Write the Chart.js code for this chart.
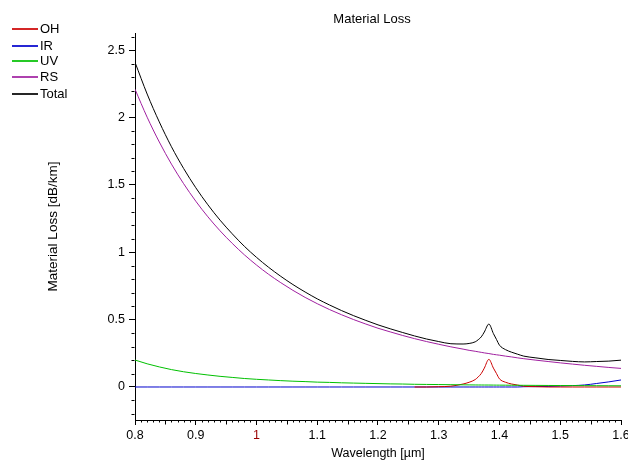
<!DOCTYPE html>
<html><head><meta charset="utf-8">
<script src="https://cdn.jsdelivr.net/npm/chart.js@4"></script>
<style>
html,body{margin:0;padding:0;background:#fff;}
#wrap{position:relative;width:628px;height:462px;overflow:hidden;}
canvas{position:absolute;left:0;top:0;}
.txt{position:absolute;font-family:"Liberation Sans",Arial,sans-serif;color:#000;white-space:nowrap;}
#title{left:272px;width:200px;top:11px;line-height:16px;font-size:13px;text-align:center;}
.legline{position:absolute;left:12px;width:26px;height:2px;opacity:0.85;}
.legtxt{left:40px;font-size:13px;line-height:16px;}
</style></head>
<body><div id="wrap"><canvas id="c" width="628" height="462"></canvas>
<div id="title" class="txt">Material Loss</div>
<div id="legend"></div></div>
<script>
const wavelength = [0.80,0.82,0.84,0.86,0.88,0.90,0.92,0.94,0.96,0.98,1.00,1.02,1.04,1.06,1.08,1.10,1.12,1.14,1.16,1.18,1.20,1.22,1.24,1.26,1.28,1.30,1.32,
  1.34,1.35,1.36,1.365,1.37,1.375,1.3825,1.39,1.395,1.40,1.41,1.42,1.43,
  1.44,1.46,1.48,1.50,1.52,1.54,1.56,1.58,1.60];
const ohLoss = [null,null,null,null,null,null,null,null,null,null,null,null,null,null,null,null,null,null,null,null,null,null,null,0,0,0.002,0.006,
  0.022,0.035,0.055,0.075,0.100,0.140,0.205,0.140,0.100,0.060,0.035,0.022,0.014,
  0.006,0.002,0,0,0,0,0,0,0];
const irLoss = [0,0,0,0,0,0,0,0,0,0,0,0,0,0,0,0,0,0,0,0,0,0,0,0,0,0,0,
  0,0,0,0,0,0,0,0,0,0,0,0,0,
  0.002,0.003,0.004,0.007,0.010,0.015,0.026,0.038,0.052];
const uvLoss = [0.200,0.172,0.149,0.129,0.113,0.100,0.089,0.079,0.071,0.063,0.057,0.052,0.047,0.043,0.040,0.036,0.034,0.031,0.029,0.027,0.025,0.023,0.022,0.020,0.019,0.018,0.017,
  0.016,0.0155,0.015,0.0148,0.0147,0.0146,0.0144,0.0141,0.0139,0.0137,0.0134,0.013,0.0127,
  0.0124,0.0119,0.0113,0.0108,0.0104,0.0099,0.0095,0.0091,0.0088];
const rsLoss = [2.210,2.002,1.818,1.654,1.509,1.379,1.263,1.159,1.066,0.981,0.905,0.836,0.774,0.717,0.665,0.618,0.575,0.536,0.500,0.467,0.436,0.409,0.383,0.359,0.337,0.317,0.298,
  0.281,0.272,0.265,0.261,0.257,0.253,0.248,0.242,0.239,0.236,0.229,0.223,0.216,
  0.210,0.199,0.189,0.179,0.170,0.161,0.153,0.145,0.138];
const totalLoss = [2.410,2.174,1.967,1.783,1.622,1.479,1.352,1.238,1.137,1.044,0.962,0.888,0.821,0.760,0.705,0.654,0.609,0.567,0.529,0.494,0.461,0.432,0.405,0.379,0.356,0.337,0.321,
  0.319,0.323,0.335,0.351,0.372,0.408,0.467,0.396,0.353,0.310,0.277,0.258,0.243,
  0.229,0.216,0.204,0.197,0.190,0.186,0.189,0.192,0.199];
const xTickValues = [0.8,0.9,1,1.1,1.2,1.3,1.4,1.5,1.6];
const xTickLabels = ["0.8","0.9","1","1.1","1.2","1.3","1.4","1.5","1.6"];
const yTickValues = [0,0.5,1,1.5,2,2.5];
const yTickLabels = ["0","0.5","1","1.5","2","2.5"];
const seriesNames = ["OH","IR","UV","RS","Total"];
const seriesColors = ["#cc0000","#0000cc","#00c000","#a020a0","#000000"];

const FONT = '"Liberation Sans", Arial, sans-serif';
const seriesData = [ohLoss, irLoss, uvLoss, rsLoss, totalLoss];
const drawOrder = [3, 4, 2, 1, 0];

// HTML legend
const legCenters = [29, 45.5, 61, 77, 93.5];
const legend = document.getElementById('legend');
seriesNames.forEach((n, i) => {
  const l = document.createElement('div');
  l.className = 'legline';
  l.style.top = (Math.round(legCenters[i]) - 1) + 'px';
  l.style.background = seriesColors[i];
  legend.appendChild(l);
  const t = document.createElement('div');
  t.className = 'txt legtxt';
  t.style.top = (legCenters[i] - 8) + 'px';
  t.textContent = n;
  legend.appendChild(t);
});

const minorTicks = {
  id: 'minorTicks',
  afterDraw(chart) {
    const {ctx, scales: {x, y}, chartArea: a} = chart;
    ctx.save();
    ctx.strokeStyle = '#000';
    ctx.lineWidth = 1;
    ctx.beginPath();
    const by = Math.round(a.bottom) + 0.5;
    for (let k = 80; k <= 160; k++) {
      if (k % 10 === 0) continue;
      const px = Math.round(x.getPixelForValue(k / 100)) + 0.5;
      const len = (k % 5 === 0) ? 4 : 2;
      ctx.moveTo(px, by);
      ctx.lineTo(px, by + len);
    }
    const lx = Math.round(a.left) - 0.5;
    for (let k = -2; k <= 26; k++) {
      if (k % 5 === 0) continue;
      const py = Math.round(y.getPixelForValue(k / 10)) + 0.5;
      ctx.moveTo(lx, py);
      ctx.lineTo(lx - 3, py);
    }
    ctx.stroke();
    ctx.restore();
  }
};

new Chart(document.getElementById('c'), {
  type: 'line',
  data: {
    datasets: seriesNames.map((n, i) => ({
      label: n,
      data: wavelength.map((w, j) => ({x: w, y: seriesData[i][j]})),
      borderColor: seriesColors[i],
      borderWidth: 1,
      pointRadius: 0,
      fill: false,
      cubicInterpolationMode: 'monotone',
      order: drawOrder[i]
    }))
  },
  options: {
    responsive: false,
    animation: false,
    devicePixelRatio: 1,
    layout: {padding: {top: 33, right: 7, bottom: 0, left: 0}},
    plugins: {legend: {display: false}, tooltip: {enabled: false}, title: {display: false}},
    scales: {
      x: {
        type: 'linear', min: 0.8, max: 1.6,
        afterBuildTicks: s => { s.ticks = xTickValues.map(v => ({value: v})); },
        afterFit: s => { s.height = 42; s.paddingLeft = 0; s.paddingRight = 0; },
        ticks: {
          autoSkip: false, maxRotation: 0, padding: 3,
          font: {family: FONT, size: 12.5},
          color: ctx => ctx.tick && ctx.tick.value === 1 ? '#990000' : '#000',
          callback: (v) => { const i = xTickValues.indexOf(v); return i >= 0 ? xTickLabels[i] : ''; }
        },
        grid: {display: true, drawOnChartArea: false, drawTicks: true, tickLength: 5, tickColor: '#000'},
        border: {display: true, color: '#000'},
        title: {display: true, text: 'Wavelength [µm]', color: '#000', font: {family: FONT, size: 12.5}, padding: {top: 0, bottom: 0.5}}
      },
      y: {
        type: 'linear', min: -0.245, max: 2.627,
        afterBuildTicks: s => { s.ticks = yTickValues.map(v => ({value: v})); },
        afterFit: s => { s.width = 135; s.paddingTop = 0; s.paddingBottom = 0; },
        ticks: {
          padding: 4, color: '#000',
          font: {family: FONT, size: 12.5},
          callback: (v) => { const i = yTickValues.indexOf(v); return i >= 0 ? yTickLabels[i] : ''; }
        },
        grid: {display: true, drawOnChartArea: false, drawTicks: true, tickLength: 6, tickColor: '#000'},
        border: {display: true, color: '#000'},
        title: {display: true, text: 'Material Loss [dB/km]', color: '#000', font: {family: FONT, size: 13.5}, padding: {top: 45, bottom: 0}}
      }
    }
  },
  plugins: [minorTicks]
});
</script>
</body></html>
